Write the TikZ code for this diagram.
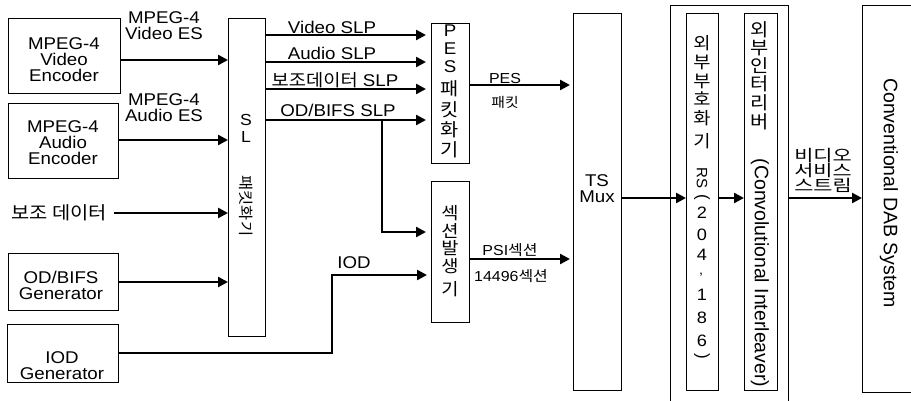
\documentclass[tikz,border=0pt]{standalone}
\usepackage{fontspec}
\usepackage{graphicx}
\setmainfont{Liberation Sans}[FakeStretch=1.1]
\newfontfamily\latn{Liberation Sans}
\newfontfamily\kr{Noto Sans CJK KR}[FakeStretch=1.1]
\newfontfamily\krw{Noto Sans CJK KR}[FakeStretch=1.3]
\usetikzlibrary{arrows.meta}
\begin{document}
\begin{tikzpicture}[x=1pt,y=-1pt,
  box/.style={draw,line width=1.1pt,inner sep=0pt,anchor=north west},
  conn/.style={line width=2.4pt,-{Triangle[length=10pt,width=10pt]}},
  tx/.style={inner sep=0pt,align=center,font=\fontsize{17}{16}\selectfont},
  sm/.style={inner sep=0pt,align=center,font=\fontsize{14.5}{15}\selectfont},
  kt/.style={inner sep=0pt,font=\kr\fontsize{18}{18}\selectfont},
  rt/.style={inner sep=0pt,rotate=-90,font=\latn\fontsize{19.5}{20}\selectfont}]
\useasboundingbox (0,0) rectangle (911,401);
% boxes
\node[box,minimum width=112pt,minimum height=75pt] (venc) at (8,18) {};
\node[box,minimum width=110pt,minimum height=75pt] (aenc) at (8,103) {};
\node[box,minimum width=110pt,minimum height=57pt] (odg) at (8,253) {};
\node[box,minimum width=111pt,minimum height=58pt] (iodg) at (7,324) {};
\node[box,minimum width=37pt,minimum height=318pt] (sl) at (228,18) {};
\node[box,minimum width=38pt,minimum height=140pt] (pes) at (431,23) {};
\node[box,minimum width=38pt,minimum height=141pt] (sec) at (431,181) {};
\node[box,minimum width=48pt,minimum height=377pt] (mux) at (573,13) {};
\node[box,minimum width=118pt,minimum height=420pt] (outer) at (670,5) {};
\node[box,minimum width=32pt,minimum height=377pt] (rs) at (686,13) {};
\node[box,minimum width=33pt,minimum height=377pt] (il) at (744,13) {};
\node[box,minimum width=80pt,minimum height=387pt] (dab) at (862,5) {};
% left texts
\node[tx] (vencT) at (64,60) {MPEG-4\\Video\\Encoder};
\node[tx] (aencT) at (63,143) {MPEG-4\\Audio\\Encoder};
\node[kt] (bojo) at (59,213) {보조 데이터};
\node[tx] (odgT) at (61,285) {OD/BIFS\\Generator};
\node[tx] (iodT) at (62,366) {IOD\\Generator};
\node[tx] (lv) at (164,26) {MPEG-4\\Video ES};
\node[tx] (la) at (164,108) {MPEG-4\\Audio ES};
% SL box
\node[tx,font=\fontsize{16}{16}\selectfont] (slS) at (246,120) {S};
\node[tx,font=\fontsize{16}{16}\selectfont] (slL) at (246,137) {L};
\node[inner sep=0pt,rotate=-90,font=\kr\fontsize{15}{15}\selectfont] (slK) at (246,206) {패킷화기};
% SLP labels
\node[tx] (vslp) at (332,27) {Video SLP};
\node[tx] (aslp) at (332,53) {Audio SLP};
\node[tx] (bslp) at (335,80) {{\kr 보조데이터} SLP};
\node[tx] (oslp) at (338,110) {OD/BIFS SLP};
% PES box
\foreach \c/\yy [count=\i] in {P/31,E/49,S/67} \node[tx] (pesL\i) at (450,\yy) {\c};
\foreach \c/\yy [count=\i] in {패/89,킷/110,화/130,기/150} \node[kt] (pesK\i) at (450,\yy) {\c};
% section box
\foreach \c/\yy [count=\i] in {섹/213,션/231,발/248,생/266,기/289} \node[kt,font=\kr\fontsize{17}{17}\selectfont] (secK\i) at (450,\yy) {\c};
% small labels
\node[sm] (pesLab) at (505,79) {PES};
\node[inner sep=0pt,font=\kr\fontsize{13.5}{14}\selectfont] (pesKab) at (505,102) {패킷};
\node[sm] (psi) at (510,250) {PSI{\kr 섹션}};
\node[sm] (sec14496) at (511,276) {14496{\kr 섹션}};
\node[tx] (iodL) at (354,263) {IOD};
% mux
\node[tx] (muxT) at (597,189) {TS\\Mux};
% RS box
\foreach \c/\yy [count=\i] in {외/43,부/62,부/81,호/99,화/118,기/141} \node[kt,font=\kr\fontsize{17}{17}\selectfont] (rsK\i) at (702,\yy) {\c};
\node[rt,font=\latn\fontsize{15}{15}\selectfont] (rsRS) at (702,178) {RS};
\node[rt,font=\latn\fontsize{17}{17}\selectfont] (rsP1) at (702,197) {(};
\foreach \c/\yy [count=\i] in {2/213,0/235,4/255,1/295,8/318,6/341} \node[tx,font=\fontsize{16.5}{16.5}\selectfont] (rsD\i) at (702,\yy) {\c};
\node[tx,font=\fontsize{13}{13}\selectfont] (rsC) at (701,275) {,};
\node[rt,font=\latn\fontsize{17}{17}\selectfont] (rsP2) at (702,356) {)};
% interleaver
\foreach \c/\yy [count=\i] in {외/30,부/48,인/66,터/84,리/103,버/122} \node[kt,font=\kr\fontsize{18}{18}\selectfont] (ilK\i) at (760,\yy) {\c};
\node[rt] (ilT) at (760,273) {(Convolutional Interleaver)};
% video service stream
\node[inner sep=0pt,align=center,font=\krw\fontsize{16}{15}\selectfont] (vss) at (823,170) {비디오\\서비스\\스트림};
% DAB
\node[rt] (dabT) at (889,193) {Conventional DAB System};
% connectors
\draw[conn] (venc.east |- 0,60) -- (sl.west |- 0,60);
\draw[conn] (aenc.east |- 0,140) -- (sl.west |- 0,140);
\draw[conn] ([xshift=7pt]bojo.east) -- (sl.west |- bojo.east);
\draw[conn] (odg.east |- 0,282) -- (sl.west |- 0,282);
\coordinate (iodbend) at (332,275);
\draw[conn] (iodg.east |- 0,353) -| (iodbend) -- ([xshift=-4pt]sec.west |- iodbend);
\draw[conn] (sl.east |- 0,35) -- ([xshift=-5pt]pes.west |- 0,35);
\draw[conn] (sl.east |- 0,62) -- ([xshift=-5pt]pes.west |- 0,62);
\draw[conn] (sl.east |- 0,89) -- ([xshift=-5pt]pes.west |- 0,89);
\draw[conn] (sl.east |- 0,120) -- ([xshift=-5pt]pes.west |- 0,120);
\coordinate (br) at (382,120);
\draw[conn] (br) |- ([xshift=-5pt]sec.west |- 0,232);
\draw[conn] (pes.east |- 0,85) -- ([xshift=-3pt]mux.west |- 0,85);
\draw[conn] (sec.east |- 0,259) -- ([xshift=-3pt]mux.west |- 0,259);
\draw[conn] (mux.east |- 0,198) -- (rs.west |- 0,198);
\draw[conn] (rs.east |- 0,198) -- (il.west |- 0,198);
\draw[conn] (outer.east |- 0,198) -- (dab.west |- 0,198);
\end{tikzpicture}
\end{document}
